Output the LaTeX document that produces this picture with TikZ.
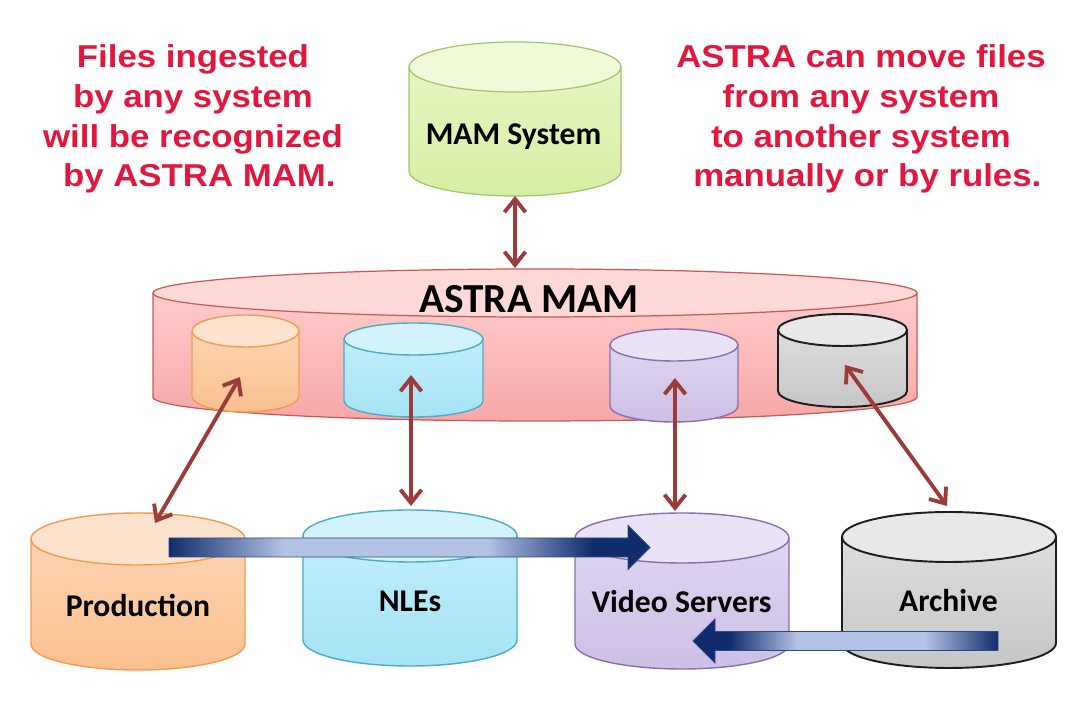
\documentclass[tikz,border=0pt]{standalone}
\usepackage{fontspec}
\usepackage{tikz}
\usetikzlibrary{arrows.meta,calc}
\newfontfamily\notefont[FakeStretch=1.1]{Liberation Sans}
\newfontfamily\labelfont{Carlito}
\definecolor{NoteRed}{HTML}{E3173E}
\definecolor{LinkRed}{HTML}{9C3B3A}
\definecolor{FlowDark}{HTML}{112C6C}
\definecolor{FlowPale}{HTML}{B3C3E5}
\definecolor{FlowEdge}{HTML}{2A4A86}
\definecolor{PinkTop}{HTML}{FFD3D3}
\definecolor{PinkBot}{HTML}{F8A7A7}
\definecolor{PinkCap}{HTML}{FFD8D8}
\definecolor{PinkLine}{HTML}{C55A57}
\definecolor{GreenTop}{HTML}{EAF7C8}
\definecolor{GreenBot}{HTML}{D6EEA3}
\definecolor{GreenCap}{HTML}{F0FAD8}
\definecolor{GreenLine}{HTML}{A3C46A}
\definecolor{OrgTop}{HTML}{FCD9BA}
\definecolor{OrgBot}{HTML}{FAC08F}
\definecolor{OrgCap}{HTML}{FDE3CD}
\definecolor{OrgLine}{HTML}{F59A4F}
\definecolor{CyanTop}{HTML}{C8F0FB}
\definecolor{CyanBot}{HTML}{A5E3F5}
\definecolor{CyanCap}{HTML}{D2F3FC}
\definecolor{CyanLine}{HTML}{4BACC6}
\definecolor{PurpTop}{HTML}{E2DAF1}
\definecolor{PurpBot}{HTML}{CDBFE5}
\definecolor{PurpCap}{HTML}{E9E3F5}
\definecolor{PurpLine}{HTML}{8A6EAF}
\definecolor{GrayTop}{HTML}{E2E2E2}
\definecolor{GrayBot}{HTML}{C6C6C6}
\definecolor{GrayCap}{HTML}{E8E8E8}
\definecolor{GrayLine}{HTML}{1E1E1E}
\pgfdeclarehorizontalshading{flowshade}{100bp}{color(0bp)=(FlowDark); color(25bp)=(FlowDark); color(37bp)=(FlowPale); color(58bp)=(FlowPale); color(69bp)=(FlowDark); color(100bp)=(FlowDark)}
% cylinder: centre x, top y, bottom y, x radius, y radius, colour prefix
\newcommand{\dbcyl}[6]{%
  \shade[top color=#6Top,bottom color=#6Bot] (#1-#4,#2) -- (#1-#4,#3)
    arc[start angle=180,end angle=360,x radius=#4,y radius=#5] -- (#1+#4,#2)
    arc[start angle=0,end angle=180,x radius=#4,y radius=#5] -- cycle;
  \draw[#6Rim] (#1-#4,#2) -- (#1-#4,#3)
    arc[start angle=180,end angle=360,x radius=#4,y radius=#5] -- (#1+#4,#2);
  \filldraw[#6Rim,fill=#6Cap] (#1,#2) ellipse[x radius=#4,y radius=#5];}
\tikzset{
  PinkRim/.style={draw=PinkLine,line width=0.7pt},
  GreenRim/.style={draw=GreenLine,line width=0.7pt},
  OrgRim/.style={draw=OrgLine,line width=0.8pt},
  CyanRim/.style={draw=CyanLine,line width=0.8pt},
  PurpRim/.style={draw=PurpLine,line width=0.8pt},
  GrayRim/.style={draw=GrayLine,line width=1.1pt}}

\begin{document}
\begin{tikzpicture}[x=0.2mm,y=0.2mm,>={Straight Barb[length=7.5pt,width=12pt]},
  link/.style={<->,line width=2.2pt,LinkRed},
  flow/.style={shading=flowshade,draw=FlowEdge,line width=0.5pt},
  note/.style={text=NoteRed,font=\notefont\bfseries\fontsize{18}{22.7}\selectfont,align=center,inner sep=0pt},
  lbl/.style={font=\labelfont\bfseries\fontsize{18}{22}\selectfont,inner sep=0pt}]
  \useasboundingbox (0,0) rectangle (1085,707);

  % central layer with its four stores
  \dbcyl{535}{414}{310}{382}{24}{Pink}
  \dbcyl{245.5}{376}{311}{53.5}{16}{Org}
  \dbcyl{413.5}{368}{306}{69.5}{16}{Cyan}
  \dbcyl{674}{362}{301}{64}{16}{Purp}
  \dbcyl{842.5}{377}{316}{64.5}{16}{Gray}
  \node[lbl,anchor=base,font=\labelfont\bfseries\fontsize{23.5}{28}\selectfont] (astra) at (529,394) {ASTRA MAM};

  % MAM on top
  \dbcyl{515}{640}{536}{106}{25}{Green}
  \node[lbl,anchor=base] (mam) at (513.5,562) {MAM System};

  % systems below
  \dbcyl{138}{168}{63}{107}{26}{Org}
  \dbcyl{410}{171}{67}{107}{26}{Cyan}
  \dbcyl{682}{169}{63}{107}{25}{Purp}
  \dbcyl{949}{170}{64}{107}{25}{Gray}
  \node[lbl,anchor=base] (prod) at (138,90) {Production};
  \node[lbl,anchor=base] (nle) at (410,95) {NLEs};
  \node[lbl,anchor=base] (vid) at (681.5,94) {Video Servers};
  \node[lbl,anchor=base] (arch) at (948.5,95) {Archive};

  % sync links
  \coordinate (mamLo) at (515,511);
  \coordinate (astraHi) at (515,439);
  \coordinate (prodMini) at (240,330);
  \coordinate (prodTop) at (155,184);
  \coordinate (nleMini) at (411,332);
  \coordinate (nleTop) at (411,201);
  \coordinate (vidMini) at (675,329);
  \coordinate (vidTop) at (675,196);
  \coordinate (archMini) at (845,342);
  \coordinate (archTop) at (947,201);
  \draw[link] (mamLo) -- (astraHi);
  \draw[link] (prodMini) -- (prodTop);
  \draw[link] (nleMini) -- (nleTop);
  \draw[link] (vidMini) -- (vidTop);
  \draw[link] (archMini) -- (archTop);

  % file moves
  \coordinate (flowA) at (169,159.5);
  \coordinate (flowB) at (650,159.5);
  \coordinate (flowC) at (998,66);
  \coordinate (flowD) at (693,66);
  \shade[flow] ($(flowA)+(0,9.5)$) -- ($(flowB)+(-22,9.5)$) -- ($(flowB)+(-22,22)$) -- (flowB)
    -- ($(flowB)+(-22,-22)$) -- ($(flowB)+(-22,-9.5)$) -- ($(flowA)+(0,-9.5)$) -- cycle;
  \shade[flow,shading angle=180] ($(flowC)+(0,9.5)$) -- ($(flowD)+(22,9.5)$) -- ($(flowD)+(22,22)$) -- (flowD)
    -- ($(flowD)+(22,-22)$) -- ($(flowD)+(22,-9.5)$) -- ($(flowC)+(0,-9.5)$) -- cycle;

  % notes
  \node[note,anchor=north] (ingestNote) at (193,663) {Files ingested\\by any system\\will be recognized\\\hspace*{.4em}by ASTRA MAM.};
  \node[note,anchor=north] (moveNote) at (861,663) {ASTRA can move files\\from any system\\to another system\\\hspace*{.4em}manually or by rules.};
\end{tikzpicture}
\end{document}
